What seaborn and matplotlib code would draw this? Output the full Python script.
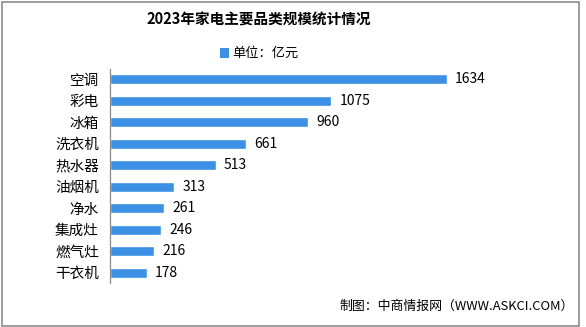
import matplotlib
matplotlib.use("Agg")
import matplotlib.pyplot as plt
import seaborn as sns
import pandas as pd
from matplotlib.patches import Rectangle

categories = ['空调', '彩电', '冰箱', '洗衣机', '热水器', '油烟机', '净水', '集成灶', '燃气灶', '干衣机']
values = [1634, 1075, 960, 661, 513, 313, 261, 246, 216, 178]

df = pd.DataFrame({'品类': categories, '规模': values})

sns.set_style('white')
plt.rcParams['font.family'] = ['Noto Sans CJK SC', 'DejaVu Sans']

bar_color = '#3C91E6'

fig = plt.figure(figsize=(5.86, 3.27), dpi=100)
ax = fig.add_axes([110 / 586, 1 - 283.4 / 327, 412 / 586, 214.8 / 327])

sns.barplot(data=df, x='规模', y='品类', orient='h', color=bar_color,
            width=0.47, saturation=1, ax=ax)

ax.set_xlim(0, 2000)
ax.set_ylim(len(categories) - 0.5, -0.5)
ax.set_xlabel('')
ax.set_ylabel('')
ax.set_xticks([])

for side in ['top', 'right', 'bottom']:
    ax.spines[side].set_visible(False)
ax.spines['left'].set_color('#8c8c8c')
ax.spines['left'].set_linewidth(0.9)

ax.set_yticks(range(len(categories)))
ax.set_yticklabels(categories, fontsize=10.5, color='black')
ax.tick_params(axis='y', which='major', length=0, pad=8)
ax.set_yticks([i - 0.5 for i in range(len(categories) + 1)], minor=True)
ax.tick_params(axis='y', which='minor', length=4, color='#8c8c8c', width=0.9)

for i, v in enumerate(values):
    ax.annotate(str(v), xy=(v, i), xytext=(6, 0), textcoords='offset points',
                va='center', ha='left', fontsize=10, color='black')

# 标题
fig.text(259 / 586, 1 - 20 / 327, '2023年家电主要品类规模统计情况',
         ha='center', va='center', fontsize=10.5, fontweight='bold', color='black')

# 图例
fig.patches.append(Rectangle((220 / 586, 1 - 57.5 / 327), 9 / 586, 9 / 327,
                             transform=fig.transFigure, facecolor=bar_color,
                             edgecolor='none'))
fig.text(232 / 586, 1 - 53 / 327, '单位：亿元', ha='left', va='center',
         fontsize=9.5, color='black')

# 来源
fig.text(574 / 586, 1 - 306 / 327, '制图：中商情报网（WWW.ASKCI.COM）',
         ha='right', va='center', fontsize=9.3, color='black')

# 外框
fig.patches.append(Rectangle((1.5 / 586, 1.5 / 327), 577 / 586, 324 / 327,
                             transform=fig.transFigure, facecolor='none',
                             edgecolor='#8c8c8c', linewidth=1.2))

fig.savefig('out.png', dpi=100)
